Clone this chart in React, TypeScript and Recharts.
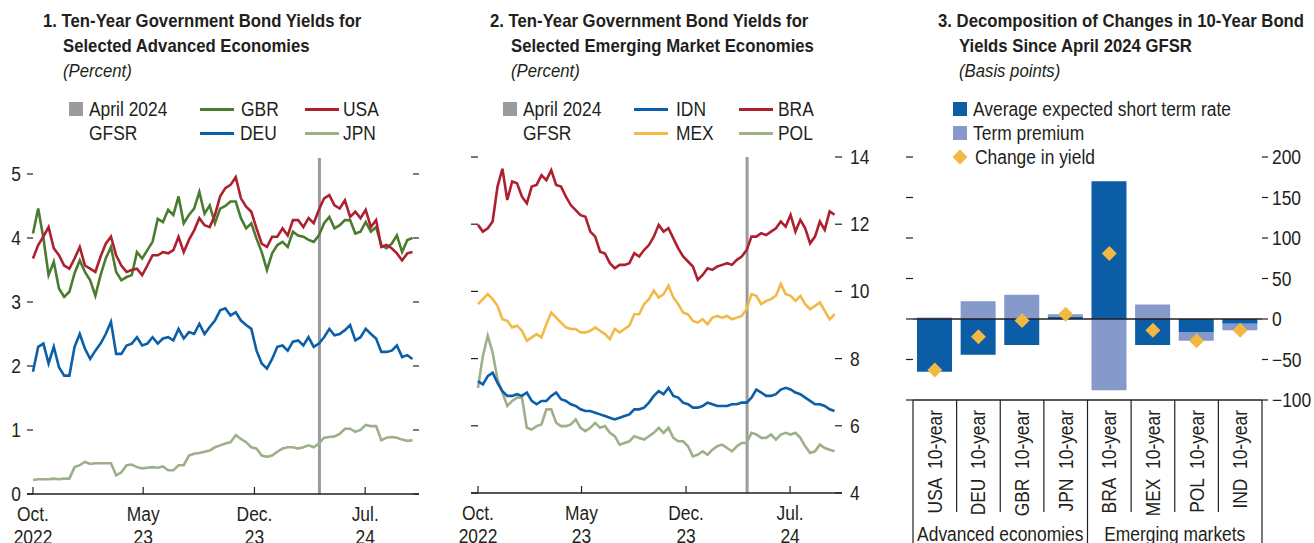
import React from 'react';
import { LineChart, Line, XAxis, YAxis, ReferenceLine, ComposedChart, Bar } from 'recharts';

// no condensed face is installed, so Arial-metric text is squeezed horizontally
const FONT = '"Liberation Sans", Arial, sans-serif';
const SQ = 0.87;
const SQB = 0.88;
const INK = '#231f20';

// days since 1 Oct 2022, one sample every 10 days
const sampleDays = [
  0, 10, 20, 30, 40, 50, 60, 70, 80, 90, 100, 110, 120, 130, 140, 150, 160, 170, 180, 190,
  200, 210, 220, 230, 240, 250, 260, 270, 280, 290, 300, 310, 320, 330, 340, 350, 360, 370, 380, 390,
  400, 410, 420, 430, 440, 450, 460, 470, 480, 490, 500, 510, 520, 530, 540, 550, 560, 570, 580, 590,
  600, 610, 620, 630, 640, 650, 660, 670, 680, 690, 700, 710, 720, 730,
];
const dateTicks = [0, 212, 426, 639];
const dateTickLabels = [['Oct.', '2022'], ['May', '23'], ['Dec.', '23'], ['Jul.', '24']];
const gfsrDay = 551;

// panel 1 (percent)
const usa = [
  3.68, 3.89, 4.02, 4.17, 3.84, 3.73, 3.57, 3.52, 3.68, 3.86, 3.57, 3.52, 3.47, 3.71, 3.91, 4.02, 3.73, 3.57, 3.47, 3.5,
  3.52, 3.42, 3.57, 3.73, 3.73, 3.78, 3.76, 3.81, 4.02, 3.78, 3.97, 4.12, 4.31, 4.2, 4.17, 4.36, 4.65, 4.78, 4.83, 4.95,
  4.62, 4.49, 4.41, 4.15, 3.91, 3.86, 4.02, 4.02, 4.15, 4.04, 4.28, 4.28, 4.17, 4.31, 4.23, 4.44, 4.62, 4.67, 4.51, 4.46,
  4.59, 4.33, 4.41, 4.31, 4.44, 4.17, 4.28, 3.86, 3.89, 3.84, 3.76, 3.65, 3.76, 3.78,
];
const gbr = [
  4.07, 4.46, 4.0, 3.42, 3.63, 3.21, 3.08, 3.16, 3.45, 3.65, 3.47, 3.34, 3.1, 3.42, 3.68, 3.86, 3.47, 3.34, 3.39, 3.42,
  3.78, 3.68, 3.81, 3.94, 4.3, 4.25, 4.44, 4.36, 4.65, 4.23, 4.36, 4.46, 4.72, 4.38, 4.51, 4.23, 4.46, 4.5, 4.57, 4.57,
  4.31, 4.15, 4.23, 3.99, 3.78, 3.5, 3.76, 3.89, 3.94, 3.86, 4.1, 4.04, 4.02, 3.97, 3.94, 4.04, 4.23, 4.33, 4.15, 4.2,
  4.28, 4.28, 4.07, 4.1, 4.25, 4.1, 4.17, 3.89, 3.84, 3.91, 4.04, 3.78, 3.97, 4.0,
];
const deu = [
  1.91, 2.3, 2.35, 2.04, 2.3, 1.98, 1.85, 1.85, 2.3, 2.5, 2.27, 2.11, 2.24, 2.35, 2.5, 2.69, 2.19, 2.19, 2.32, 2.35,
  2.45, 2.32, 2.35, 2.45, 2.35, 2.43, 2.45, 2.4, 2.58, 2.43, 2.53, 2.5, 2.66, 2.5, 2.61, 2.71, 2.87, 2.9, 2.79, 2.84,
  2.71, 2.64, 2.58, 2.24, 2.04, 1.96, 2.11, 2.3, 2.32, 2.24, 2.38, 2.4, 2.32, 2.45, 2.3, 2.35, 2.45, 2.58, 2.48, 2.5,
  2.56, 2.64, 2.4, 2.45, 2.58, 2.5, 2.43, 2.22, 2.22, 2.24, 2.32, 2.14, 2.17, 2.11,
];
const jpn = [
  0.22, 0.23, 0.23, 0.23, 0.24, 0.23, 0.24, 0.24, 0.42, 0.45, 0.5, 0.47, 0.48, 0.48, 0.48, 0.48, 0.29, 0.34, 0.45, 0.46,
  0.42, 0.4, 0.41, 0.42, 0.41, 0.43, 0.37, 0.37, 0.45, 0.45, 0.6, 0.63, 0.64, 0.66, 0.68, 0.73, 0.76, 0.79, 0.81, 0.92,
  0.86, 0.81, 0.73, 0.71, 0.6, 0.58, 0.6, 0.66, 0.71, 0.73, 0.73, 0.71, 0.73, 0.76, 0.73, 0.79, 0.88, 0.89, 0.9, 0.94,
  1.02, 1.02, 0.97, 1.0, 1.08, 1.06, 1.06, 0.84, 0.88, 0.89, 0.88, 0.85, 0.83, 0.84,
];

// panel 2 (percent)
const bra = [
  11.98, 11.78, 11.88, 12.08, 13.12, 13.65, 12.72, 13.27, 13.22, 12.82, 12.62, 13.12, 13.17, 13.46, 13.31, 13.61, 13.17, 13.12, 12.82, 12.57,
  12.42, 12.27, 12.22, 11.78, 11.63, 11.18, 11.13, 10.84, 10.69, 10.79, 10.79, 10.84, 11.14, 11.04, 11.23, 11.38, 11.63, 11.98, 11.78, 11.88,
  11.58, 11.28, 11.04, 10.89, 10.74, 10.34, 10.49, 10.69, 10.64, 10.74, 10.79, 10.84, 10.79, 10.94, 11.04, 11.23, 11.63, 11.63, 11.73, 11.68,
  11.78, 11.88, 12.08, 11.93, 12.28, 11.78, 12.13, 11.88, 11.43, 11.63, 12.08, 11.83, 12.38, 12.28,
];
const mex = [
  9.62, 9.77, 9.92, 9.77, 9.57, 9.17, 9.12, 8.93, 8.98, 8.83, 8.53, 8.63, 8.73, 8.63, 9.02, 9.37, 9.22, 9.07, 8.93, 8.88,
  8.88, 8.78, 8.78, 8.83, 8.93, 8.83, 8.73, 8.58, 8.88, 8.78, 8.88, 8.98, 9.32, 9.32, 9.62, 9.77, 10.02, 9.82, 9.92, 10.17,
  9.82, 9.62, 9.37, 9.32, 9.12, 9.07, 9.17, 9.02, 9.22, 9.27, 9.22, 9.27, 9.17, 9.22, 9.27, 9.47, 9.92, 9.87, 9.62, 9.72,
  9.77, 9.87, 10.22, 9.92, 9.87, 9.72, 9.87, 9.62, 9.47, 9.57, 9.67, 9.42, 9.17, 9.32,
];
const idn = [
  7.33, 7.23, 7.48, 7.58, 7.28, 7.03, 6.89, 6.89, 6.94, 6.89, 6.99, 6.74, 6.64, 6.74, 6.74, 6.89, 6.99, 6.79, 6.74, 6.64,
  6.59, 6.49, 6.44, 6.44, 6.39, 6.34, 6.29, 6.24, 6.19, 6.24, 6.29, 6.34, 6.49, 6.49, 6.54, 6.69, 6.89, 7.03, 6.94, 7.13,
  6.89, 6.84, 6.69, 6.64, 6.54, 6.54, 6.59, 6.69, 6.64, 6.59, 6.59, 6.59, 6.64, 6.64, 6.69, 6.69, 6.84, 7.08, 6.99, 6.89,
  6.89, 6.94, 7.08, 7.13, 7.08, 6.99, 6.94, 6.84, 6.74, 6.64, 6.64, 6.59, 6.49, 6.44,
];
const pol = [
  7.13, 8.08, 8.68, 8.18, 7.38, 6.99, 6.59, 6.74, 6.84, 6.84, 5.94, 5.89, 5.99, 6.04, 6.49, 6.49, 6.09, 5.99, 5.99, 6.04,
  6.19, 5.94, 5.84, 5.94, 6.09, 5.94, 5.99, 5.79, 5.69, 5.44, 5.49, 5.54, 5.69, 5.64, 5.59, 5.69, 5.79, 5.94, 5.79, 5.94,
  5.64, 5.54, 5.54, 5.39, 5.09, 5.14, 5.24, 5.14, 5.29, 5.39, 5.44, 5.34, 5.24, 5.39, 5.49, 5.49, 5.79, 5.74, 5.64, 5.64,
  5.74, 5.59, 5.74, 5.79, 5.74, 5.79, 5.64, 5.39, 5.19, 5.24, 5.44, 5.34, 5.29, 5.24,
];

// panel 3 (basis points)
const decompCategories = ['USA  10-year', 'DEU  10-year', 'GBR  10-year', 'JPN  10-year', 'BRA  10-year', 'MEX  10-year', 'POL  10-year', 'IND  10-year'];
const shortRate = [-65, -44, -32, 3, 170, -32, -16, -6];
const termPremium = [2, 22, 30, 3, -88, 18, -11, -8];
const yieldChange = [-63, -22, -2, 6, 81, -14, -27, -14];
const groupLabels = ['Advanced economies', 'Emerging markets'];

const advTicks = [0, 1, 2, 3, 4, 5];
const emTicks = [4, 6, 8, 10, 12, 14];
const bpTicks = [-100, -50, 0, 50, 100, 150, 200];

const advData = sampleDays.map((d, i) => ({ d, usa: usa[i], gbr: gbr[i], deu: deu[i], jpn: jpn[i] }));
const emData = sampleDays.map((d, i) => ({ d, bra: bra[i], mex: mex[i], idn: idn[i], pol: pol[i] }));
const decompData = decompCategories.map((name, i) => ({
  name, shortRate: shortRate[i], termPremium: termPremium[i], change: yieldChange[i],
}));

const C = {
  red: '#ae1f30', green: '#4b7b2f', blue: '#0a5fa8', sage: '#9db08a', gold: '#f3b946', gray: '#9b9b9d',
  dark: '#0b5ea6', light: '#8599ca', diamond: '#f1b843',
};

const fmt = (v: number) => (v < 0 ? '\u2212' + Math.abs(v) : String(v));

// squeezed svg text placed at (x, y)
const SText = ({ x, y, anchor, children, rot }: any) => (
  <g transform={`translate(${x},${y})${rot ? ' rotate(-90)' : ''} scale(${SQ},1)`}>
    <text x={0} y={0} textAnchor={anchor} fontFamily={FONT} fontSize={20} fill={INK} style={{ whiteSpace: 'pre' }}>
      {children}
    </text>
  </g>
);

const makeYTick = (side: 'left' | 'right', out: boolean, len: number, gap: number | null) => (props: any) => {
  const { x, y, payload } = props;
  const dir = side === 'left' ? (out ? -1 : 1) : (out ? 1 : -1);
  const lx = side === 'left' ? x - gap! : x + gap!;
  return (
    <g>
      <line x1={x} x2={x + dir * len} y1={y} y2={y} stroke={INK} strokeWidth={1.2} />
      {gap !== null && (
        <SText x={lx} y={y + 7} anchor={side === 'left' ? 'end' : 'start'}>{fmt(payload.value)}</SText>
      )}
    </g>
  );
};

const DateTick = (props: any) => {
  const { x, y, payload } = props;
  const lab = dateTickLabels[dateTicks.indexOf(payload.value)] ?? ['', ''];
  return (
    <g>
      <line x1={x} x2={x} y1={y - 7} y2={y} stroke={INK} strokeWidth={1.2} />
      <SText x={x} y={y + 27} anchor="middle">{lab[0]}</SText>
      <SText x={x} y={y + 50} anchor="middle">{lab[1]}</SText>
    </g>
  );
};

const BAND = 349 / decompCategories.length;

const CategoryTick = (props: any) => {
  const { x, y, payload } = props;
  const idx = decompCategories.indexOf(payload.value);
  const long = idx === 0 || idx === 4;
  return (
    <g>
      <line x1={x - BAND / 2} x2={x - BAND / 2} y1={y} y2={long ? y + 150 : y + 112} stroke={INK} strokeWidth={1.2} />
      {idx === decompCategories.length - 1 && (
        <line x1={x + BAND / 2} x2={x + BAND / 2} y1={y} y2={y + 150} stroke={INK} strokeWidth={1.2} />
      )}
      <SText x={x + 7} y={y + 10} anchor="end" rot>{payload.value}</SText>
      {idx === 0 && <SText x={x + 1.5 * BAND} y={y + 141} anchor="middle">{groupLabels[0]}</SText>}
      {idx === 4 && <SText x={x + 1.5 * BAND} y={y + 141} anchor="middle">{groupLabels[1]}</SText>}
    </g>
  );
};

const Diamond = (props: any) => {
  const { cx, cy } = props;
  if (cx == null || cy == null) return null;
  const r = 7.5;
  return <polygon points={`${cx},${cy - r} ${cx + r},${cy} ${cx},${cy + r} ${cx - r},${cy}`} fill={C.diamond} />;
};

const txt: React.CSSProperties = {
  position: 'absolute', fontFamily: FONT, fontSize: 20, color: INK, lineHeight: '24px', whiteSpace: 'nowrap',
  transform: `scaleX(${SQ})`, transformOrigin: 'left center',
};

const Title = ({ x, x2, lines, sub }: { x: number; x2: number; lines: string[]; sub: string }) => {
  const t: React.CSSProperties = { ...txt, fontSize: 19, lineHeight: '25px', transform: `scaleX(${SQB})` };
  return (
    <>
      <div style={{ ...t, left: x, top: 8, fontWeight: 700 }}>{lines[0]}</div>
      <div style={{ ...t, left: x2, top: 33, fontWeight: 700 }}>{lines[1]}</div>
      <div style={{ ...t, left: x2, top: 58, fontStyle: 'italic' }}>{sub}</div>
    </>
  );
};

const LegLine = ({ x, tx, y, color, label }: { x: number; tx: number; y: number; color: string; label: string }) => (
  <>
    <div style={{ position: 'absolute', left: x, top: y - 1.5, width: 34, height: 3, background: color }} />
    <div style={{ ...txt, left: tx, top: y - 12 }}>{label}</div>
  </>
);

const LegSquare = ({ x, y, color, lines }: { x: number; y: number; color: string; lines: string[] }) => (
  <>
    <div style={{ position: 'absolute', left: x, top: y - 7, width: 14, height: 14, background: color }} />
    {lines.map((l, i) => (
      <div key={l} style={{ ...txt, left: x + 20, top: y - 12 + i * 24 }}>{l}</div>
    ))}
  </>
);

export default function App() {
  return (
    <div style={{ position: 'absolute', left: 0, top: 0, width: 1314, height: 543, background: '#fff', overflow: 'hidden' }}>
      <Title x={43} x2={63} lines={['1. Ten-Year Government Bond Yields for', 'Selected Advanced Economies']} sub="(Percent)" />
      <Title x={490} x2={511} lines={['2. Ten-Year Government Bond Yields for', 'Selected Emerging Market Economies']} sub="(Percent)" />
      <Title x={938} x2={959} lines={['3. Decomposition of Changes in 10-Year Bond', 'Yields Since April 2024 GFSR']} sub="(Basis points)" />

      <LegSquare x={69} y={109} color={C.gray} lines={['April 2024', 'GFSR']} />
      <LegLine x={200} tx={241} y={109} color={C.green} label="GBR" />
      <LegLine x={200} tx={240} y={133} color={C.blue} label="DEU" />
      <LegLine x={305} tx={343} y={109} color={C.red} label="USA" />
      <LegLine x={305} tx={343} y={133} color={C.sage} label="JPN" />

      <LegSquare x={503} y={109} color={C.gray} lines={['April 2024', 'GFSR']} />
      <LegLine x={634} tx={676} y={109} color={C.blue} label="IDN" />
      <LegLine x={634} tx={676} y={133} color={C.gold} label="MEX" />
      <LegLine x={739} tx={778} y={109} color={C.red} label="BRA" />
      <LegLine x={739} tx={778} y={133} color={C.sage} label="POL" />

      <LegSquare x={953} y={109} color={C.dark} lines={['Average expected short term rate']} />
      <LegSquare x={953} y={133} color={C.light} lines={['Term premium']} />
      <div style={{ position: 'absolute', left: 953, top: 150, width: 14, height: 14, background: C.diamond, transform: 'scale(0.75) rotate(45deg)' }} />
      <div style={{ ...txt, left: 975, top: 145 }}>Change in yield</div>

      <div style={{ position: 'absolute', left: 0, top: 0 }}>
        <LineChart width={440} height={543} data={advData} margin={{ top: 158, right: 0, bottom: 0, left: 0 }}>
          <XAxis dataKey="d" type="number" domain={[-11.5, 742.5]} ticks={dateTicks} height={49}
            tickSize={0} tickMargin={0} tickLine={false} axisLine={{ stroke: INK, strokeWidth: 1.3 }} tick={DateTick} interval={0} />
          <YAxis yAxisId="l" width={27} domain={[0, 5.25]} ticks={advTicks} tickSize={0} tickMargin={0}
            axisLine={false} tickLine={false} tick={makeYTick('left', false, 6, 6)} interval={0} />
          <YAxis yAxisId="r" orientation="right" width={21} domain={[0, 5.25]} ticks={advTicks} tickSize={0} tickMargin={0}
            axisLine={false} tickLine={false} tick={makeYTick('right', false, 6, null)} interval={0} />
          <ReferenceLine yAxisId="l" x={gfsrDay} stroke={C.gray} strokeWidth={3} />
          <Line yAxisId="r" dataKey="jpn" stroke={C.sage} strokeWidth={2.6} dot={false} isAnimationActive={false} />
          <Line yAxisId="l" dataKey="deu" stroke={C.blue} strokeWidth={2.6} dot={false} isAnimationActive={false} />
          <Line yAxisId="l" dataKey="gbr" stroke={C.green} strokeWidth={2.6} dot={false} isAnimationActive={false} />
          <Line yAxisId="l" dataKey="usa" stroke={C.red} strokeWidth={2.6} dot={false} isAnimationActive={false} />
        </LineChart>
      </div>

      <div style={{ position: 'absolute', left: 440, top: 0 }}>
        <LineChart width={440} height={543} data={emData} margin={{ top: 157, right: 0, bottom: 0, left: 0 }}>
          <XAxis dataKey="d" type="number" domain={[-14.3, 745.3]} ticks={dateTicks} height={50}
            tickSize={0} tickMargin={0} tickLine={false} axisLine={{ stroke: INK, strokeWidth: 1.3 }} tick={DateTick} interval={0} />
          <YAxis yAxisId="l" width={31} domain={[4, 14]} ticks={emTicks} tickSize={0} tickMargin={0}
            axisLine={false} tickLine={false} tick={makeYTick('left', false, 7, null)} interval={0} />
          <YAxis yAxisId="r" orientation="right" width={38} domain={[4, 14]} ticks={emTicks} tickSize={0} tickMargin={0}
            axisLine={false} tickLine={false} tick={makeYTick('right', false, 7, 8)} interval={0} />
          <ReferenceLine yAxisId="l" x={gfsrDay} stroke={C.gray} strokeWidth={3} />
          <Line yAxisId="r" dataKey="pol" stroke={C.sage} strokeWidth={2.6} dot={false} isAnimationActive={false} />
          <Line yAxisId="l" dataKey="idn" stroke={C.blue} strokeWidth={2.6} dot={false} isAnimationActive={false} />
          <Line yAxisId="l" dataKey="mex" stroke={C.gold} strokeWidth={2.6} dot={false} isAnimationActive={false} />
          <Line yAxisId="l" dataKey="bra" stroke={C.red} strokeWidth={2.6} dot={false} isAnimationActive={false} />
        </LineChart>
      </div>

      <div style={{ position: 'absolute', left: 880, top: 0 }}>
        <ComposedChart width={434} height={543} data={decompData} stackOffset="sign" margin={{ top: 157, right: 0, bottom: 0, left: 0 }}>
          <XAxis dataKey="name" height={143} tickSize={0} tickMargin={0} tickLine={false} interval={0}
            axisLine={{ stroke: INK, strokeWidth: 1.3 }} tick={CategoryTick} />
          <YAxis yAxisId="l" width={33} domain={[-100, 200]} ticks={bpTicks} tickSize={0} tickMargin={0}
            axisLine={false} tickLine={false} tick={makeYTick('left', true, 7, null)} interval={0} />
          <YAxis yAxisId="r" orientation="right" width={52} domain={[-100, 200]} ticks={bpTicks} tickSize={0} tickMargin={0}
            axisLine={false} tickLine={false} tick={makeYTick('right', true, 6, 10)} interval={0} />
          <Bar yAxisId="l" dataKey="shortRate" stackId="s" fill={C.dark} barSize={35} isAnimationActive={false} />
          <Bar yAxisId="l" dataKey="termPremium" stackId="s" fill={C.light} barSize={35} isAnimationActive={false} />
          <ReferenceLine yAxisId="l" y={0} stroke={INK} strokeWidth={1.3} />
          <Line yAxisId="r" dataKey="change" stroke="none" dot={Diamond} activeDot={false} isAnimationActive={false} />
        </ComposedChart>
      </div>
    </div>
  );
}
